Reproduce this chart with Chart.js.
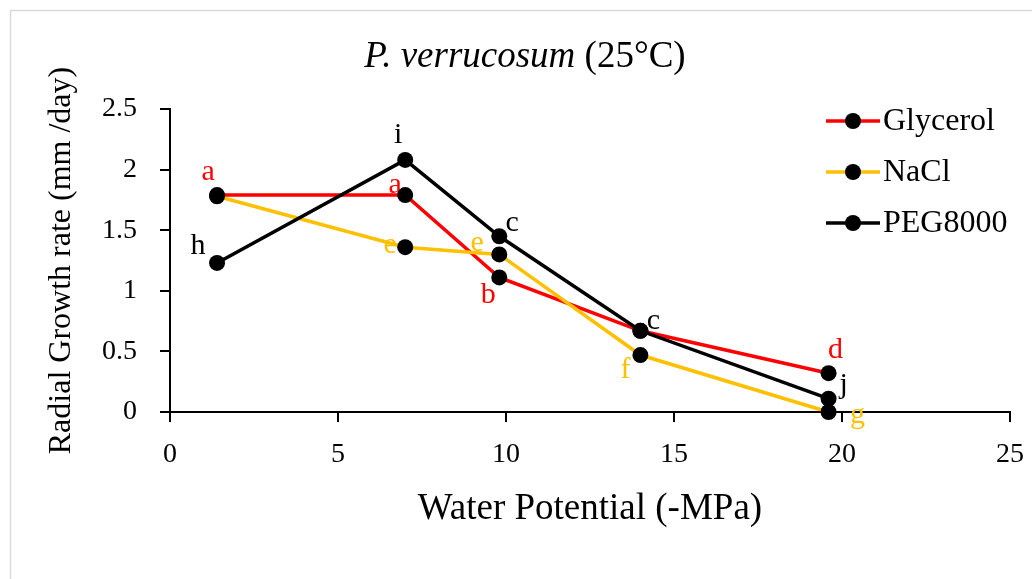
<!DOCTYPE html>
<html>
<head>
<meta charset="utf-8">
<script src="https://cdn.jsdelivr.net/npm/chart.js@4.4.1/dist/chart.umd.min.js"></script>
<style>
  html, body { margin: 0; padding: 0; background: #fff; }
</style>
</head>
<body>
<canvas id="myChart" width="1032" height="579"></canvas>
<script>
// water potential (-MPa) of each medium
const waterPotential = [1.4, 7.0, 9.8, 14.0, 19.6];

// radial growth rate (mm/day)
const glycerol = [1.79, 1.79, 1.11, 0.67, 0.32];
const nacl = [1.78, 1.36, 1.30, 0.47, 0.0];
const peg8000 = [1.23, 2.08, 1.45, 0.67, 0.11];

// significance letters for each point
const glycerolLetters = ["a", "a", "b", "", "d"];
const naclLetters = ["", "e", "e", "f", "g"];
const pegLetters = ["h", "i", "c", "c", "j"];

const xTicks = [0, 5, 10, 15, 20, 25];
const xTickLabels = ["0", "5", "10", "15", "20", "25"];
const yTicks = [0, 0.5, 1, 1.5, 2, 2.5];
const yTickLabels = ["0", "0.5", "1", "1.5", "2", "2.5"];

// where each letter sits relative to its point (px)
const glycerolOffsets = [[-9, -23], [-10, -10], [-11, 18], [0, 0], [7, -23]];
const naclOffsets = [[0, 0], [-15, -2], [-22, -11], [-15, 15], [29, 3]];
const pegOffsets = [[-19, -17], [-7, -25], [13, -13], [13, -10], [15, -14]];

const FONT = '"Liberation Serif", "Times New Roman", serif';
const RED = "#ff0000";
const YELLOW = "#ffc000";
const BLACK = "#000000";

const toPoints = (ys) => waterPotential.map((x, i) => ({ x, y: ys[i] }));

const series = [
  { label: "Glycerol", values: glycerol, color: RED, letters: glycerolLetters, offsets: glycerolOffsets, order: 2 },
  { label: "NaCl", values: nacl, color: YELLOW, letters: naclLetters, offsets: naclOffsets, order: 1 },
  { label: "PEG8000", values: peg8000, color: BLACK, letters: pegLetters, offsets: pegOffsets, order: 0 },
];

const frame = {
  id: "frame",
  beforeDraw(chart) {
    const { ctx } = chart;
    ctx.save();
    ctx.fillStyle = "#fff";
    ctx.fillRect(0, 0, chart.width, chart.height);
    ctx.strokeStyle = "#d9d9d9";
    ctx.lineWidth = 1.5;
    ctx.strokeRect(10.5, 10.5, chart.width + 20, chart.height + 20);
    ctx.restore();
  },
};

const heading = {
  id: "heading",
  afterDraw(chart) {
    const { ctx } = chart;
    const italic = "P. verrucosum";
    const plain = " (25°C)";
    ctx.save();
    ctx.fillStyle = BLACK;
    ctx.textBaseline = "alphabetic";
    ctx.font = `italic 37px ${FONT}`;
    const w1 = ctx.measureText(italic).width;
    ctx.font = `37px ${FONT}`;
    const w2 = ctx.measureText(plain).width;
    const x0 = chart.width / 2 + 9 - (w1 + w2) / 2;
    ctx.font = `italic 37px ${FONT}`;
    ctx.fillText(italic, x0, 67);
    ctx.font = `37px ${FONT}`;
    ctx.fillText(plain, x0 + w1, 67);
    ctx.restore();
  },
};

const letters = {
  id: "letters",
  beforeDatasetsDraw(chart) {
    const { ctx } = chart;
    ctx.save();
    ctx.font = `30px ${FONT}`;
    ctx.textAlign = "center";
    ctx.textBaseline = "middle";
    chart.data.datasets.forEach((ds, di) => {
      const s = series[di];
      const meta = chart.getDatasetMeta(di);
      ctx.fillStyle = s.color;
      meta.data.forEach((pt, i) => {
        const txt = s.letters[i];
        if (!txt) return;
        const [dx, dy] = s.offsets[i];
        ctx.fillText(txt, pt.x + dx, pt.y + dy);
      });
    });
    ctx.restore();
  },
};

const legendBox = {
  id: "legendBox",
  afterDraw(chart) {
    const { ctx } = chart;
    ctx.save();
    ctx.font = `32px ${FONT}`;
    ctx.textBaseline = "middle";
    series.forEach((s, i) => {
      const y = 121 + i * 51;
      ctx.strokeStyle = s.color;
      ctx.lineWidth = 3.5;
      ctx.beginPath();
      ctx.moveTo(826, y);
      ctx.lineTo(880, y);
      ctx.stroke();
      ctx.fillStyle = BLACK;
      ctx.beginPath();
      ctx.arc(853, y, 8, 0, Math.PI * 2);
      ctx.fill();
      ctx.fillText(s.label, 883, y + 1);
    });
    ctx.restore();
  },
};

const axisStyle = (ticks, labels) => ({
  type: "linear",
  min: ticks[0],
  max: ticks[ticks.length - 1],
  afterBuildTicks: (scale) => {
    scale.ticks = ticks.map((value) => ({ value }));
  },
  grid: {
    drawOnChartArea: false,
    drawTicks: true,
    tickLength: 10,
    color: BLACK,
    lineWidth: 2,
  },
  border: { display: true, color: BLACK, width: 2 },
  ticks: {
    color: BLACK,
    font: { family: FONT, size: 28 },
    maxRotation: 0,
    callback: (value, i) => labels[i],
  },
});

const ctx = document.getElementById("myChart").getContext("2d");

const xAxis = axisStyle(xTicks, xTickLabels);
const yAxis = axisStyle(yTicks, yTickLabels);

const myChart = new Chart(ctx, {
  type: "line",
  data: {
    datasets: series.map((s) => ({
      label: s.label,
      data: toPoints(s.values),
      borderColor: s.color,
      backgroundColor: BLACK,
      borderWidth: 3.5,
      pointRadius: 8,
      pointBackgroundColor: BLACK,
      pointBorderColor: BLACK,
      pointBorderWidth: 0,
      tension: 0,
      order: s.order,
      clip: false,
    })),
  },
  options: {
    responsive: false,
    animation: false,
    devicePixelRatio: 1,
    layout: { padding: { top: 109, right: 22, left: 0, bottom: 0 } },
    plugins: {
      legend: { display: false },
      title: { display: false },
      tooltip: { enabled: false },
    },
    scales: {
      x: {
        ...xAxis,
        afterFit: (scale) => {
          scale.height = 167;
          scale.paddingLeft = 0;
          scale.paddingRight = 0;
        },
        ticks: { ...xAxis.ticks, padding: 16 },
        title: {
          display: true,
          text: "Water Potential (-MPa)",
          color: BLACK,
          font: { family: FONT, size: 37 },
          padding: { top: 0, bottom: 48 },
        },
      },
      y: {
        ...yAxis,
        afterFit: (scale) => {
          scale.width = 170;
          scale.paddingTop = 0;
          scale.paddingBottom = 0;
        },
        ticks: { ...yAxis.ticks, padding: 23 },
        title: {
          display: true,
          text: "Radial Growth rate (mm /day)",
          color: BLACK,
          font: { family: FONT, size: 32 },
          padding: { top: 42, bottom: 0 },
        },
      },
    },
  },
  plugins: [frame, heading, letters, legendBox],
});
</script>
</body>
</html>
